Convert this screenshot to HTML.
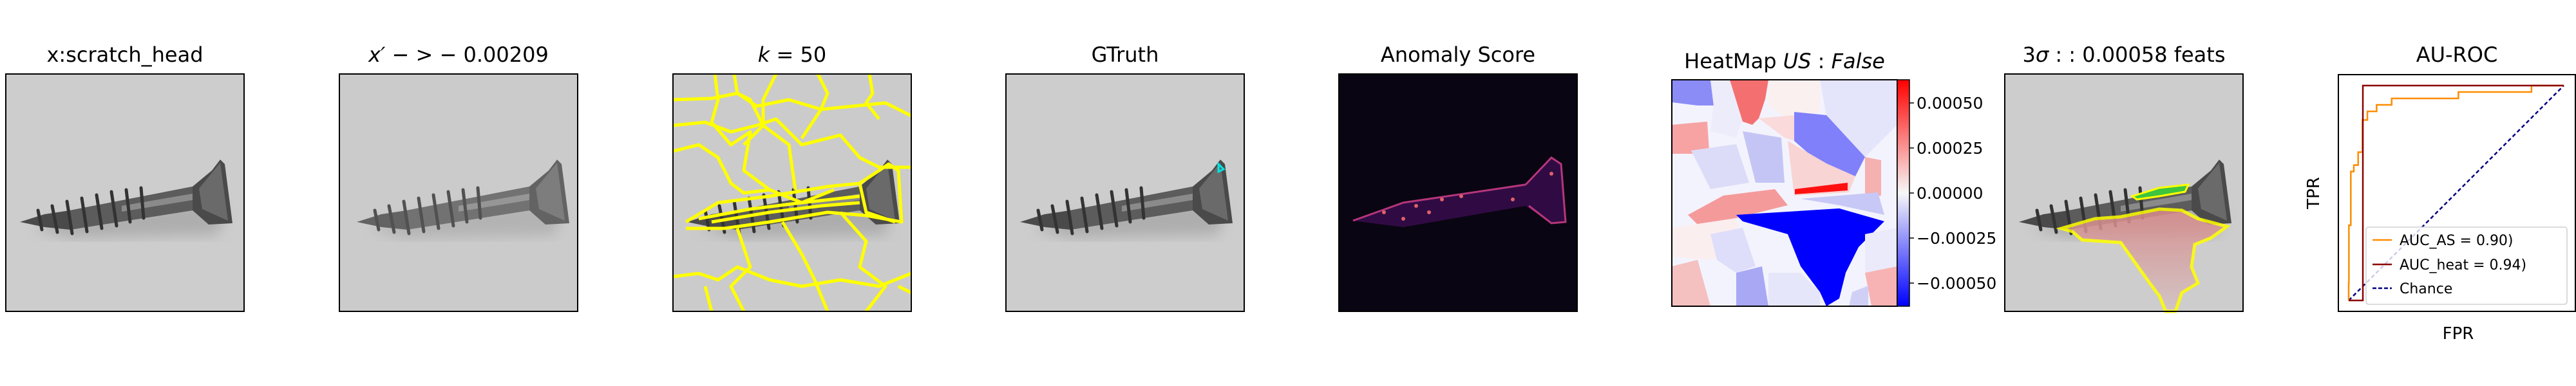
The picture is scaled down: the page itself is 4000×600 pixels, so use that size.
<!DOCTYPE html>
<html><head><meta charset="utf-8"><style>
html,body{margin:0;padding:0;background:#fff;}
body{width:4000px;height:600px;position:relative;overflow:hidden;font-family:"DejaVu Sans","Liberation Sans",sans-serif;}
.t{position:absolute;font-size:32px;color:#000;text-align:center;white-space:nowrap;transform:translateX(-50%);}
</style></head><body>
<svg id="fig" width="4000" height="600" viewBox="0 0 4000 600" xmlns="http://www.w3.org/2000/svg" style="position:absolute;left:0;top:0">
<defs>
<filter id="blur"><feGaussianBlur stdDeviation="10"/></filter>
<symbol id="screw" viewBox="0 0 370 369">
<path d="M40,240 L100,225 L290,195 L340,210 L330,250 L100,255 Z" fill="#9a9a9a" opacity="0.6" filter="url(#blur)"/>
<path d="M22,230 L60,218 L100,212 L290,175 L320,150 L333,133 L340,140 L352,232 L315,234 L290,212 L100,242 L60,238 Z" fill="#4a4a4a"/>
<path d="M100,212 L290,175 L290,212 L100,242 Z" fill="#5c5c5c"/>
<path d="M180,205 L290,186 L290,196 L180,214 Z" fill="#8a8a8a"/>
<path d="M300,178 L333,138 L345,228 L305,210 Z" fill="#6a6a6a"/>
<g stroke="#333" stroke-width="5" stroke-linecap="round">
<line x1="50" y1="212" x2="56" y2="242"/><line x1="72" y1="205" x2="80" y2="246"/><line x1="95" y1="198" x2="103" y2="248"/>
<line x1="118" y1="193" x2="126" y2="245"/><line x1="141" y1="188" x2="149" y2="240"/><line x1="164" y1="183" x2="172" y2="236"/>
<line x1="187" y1="180" x2="193" y2="230"/><line x1="210" y1="177" x2="214" y2="224"/></g>
</symbol>
<linearGradient id="cb" x1="0" y1="1" x2="0" y2="0">
<stop offset="0" stop-color="#0000ff"/><stop offset="0.5" stop-color="#f7f7f7"/><stop offset="1" stop-color="#ff0000"/></linearGradient>
<linearGradient id="pink" x1="0" y1="0" x2="0" y2="1"><stop offset="0" stop-color="#d98888"/><stop offset="1" stop-color="#d4c4c4"/></linearGradient>
</defs>

<g transform="translate(9,115)">
<rect width="370" height="369" fill="#cdcdcd"/><use href="#screw" width="370" height="369"/>
<rect width="370" height="369" fill="none" stroke="#000" stroke-width="2"/></g>

<g transform="translate(527,115)">
<rect width="370" height="369" fill="#cbcbcb"/><g opacity="0.8"><use href="#screw" width="370" height="369" transform="translate(5,0)"/></g>
<rect width="370" height="369" fill="none" stroke="#000" stroke-width="2"/></g>

<g transform="translate(1045,115)">
<rect width="370" height="369" fill="#cbcbcb"/><use href="#screw" width="370" height="369"/>
<g fill="none" stroke="#ffff00" stroke-width="5" stroke-linejoin="round">
<path d="M0,40 L60,38 L100,30 L130,50 L180,40 L230,55 L280,50 L330,45 L370,65"/>
<path d="M0,80 L50,75 L90,90 L130,80 L160,70 L200,110 L260,95 L290,130 L320,145 L350,145 L370,145"/>
<path d="M0,120 L40,110 L70,130 L90,170 L110,185 L150,180 L200,200 L250,180"/>
<path d="M65,0 L70,40 L60,75 L90,110 L120,90 L110,150 L150,180"/>
<path d="M95,0 L100,30 L120,40 L140,80 L110,110"/>
<path d="M160,0 L140,40 L140,80 L180,110 L190,180"/>
<path d="M225,0 L240,30 L230,55 L200,100"/>
<path d="M305,0 L310,30 L300,45 L320,70"/>
<path d="M20,230 L70,200 L150,190 L240,175 L290,170 L335,140 L350,150 L355,230 L300,220 L240,215 L150,230 L80,240 L20,240"/>
<path d="M40,225 L120,210 L200,200 L290,190"/><path d="M60,230 L150,215 L230,205 L290,200"/>
<path d="M290,170 L300,215 L345,230"/>
<path d="M0,315 L40,310 L70,320 L100,300 L150,320 L200,330 L260,320 L320,330 L370,310"/>
<path d="M100,240 L110,270 L120,300 L90,330 L110,369"/><path d="M170,230 L200,280 L220,320 L240,369"/>
<path d="M260,215 L300,260 L290,300 L330,330 L300,369"/><path d="M50,330 L60,369"/><path d="M350,330 L370,340"/>
</g>
<rect width="370" height="369" fill="none" stroke="#000" stroke-width="2"/></g>

<g transform="translate(1562,115)">
<rect width="370" height="369" fill="#cdcdcd"/><use href="#screw" width="370" height="369"/>
<path d="M330,140 L338,148 L330,152 Z" fill="none" stroke="#00e5e5" stroke-width="3"/>
<rect width="370" height="369" fill="none" stroke="#000" stroke-width="2"/></g>

<g transform="translate(2079,115)">
<rect width="370" height="369" fill="#0a0512"/>
<path d="M22,228 L100,200 L290,170 L330,130 L345,140 L352,230 L330,232 L290,205 L100,238 Z" fill="#3a0d50" opacity="0.8"/>
<g fill="none" stroke="#b5367a" stroke-width="3"><path d="M290,172 L330,130 L345,140 L352,230 L330,232 L295,205"/><path d="M22,228 L100,200 L290,172"/></g>
<g fill="#e0606a"><circle cx="70" cy="215" r="3"/><circle cx="120" cy="205" r="3"/><circle cx="160" cy="195" r="3"/><circle cx="190" cy="190" r="3"/><circle cx="270" cy="195" r="3"/><circle cx="330" cy="155" r="3"/><circle cx="100" cy="225" r="3"/><circle cx="140" cy="215" r="3"/></g>
<rect width="370" height="369" fill="none" stroke="#000" stroke-width="2"/></g>

<g transform="translate(2596,124)">
<rect width="350" height="352" fill="#f3f3fd"/>
<path d="M0,0 L60,0 L65,40 L40,40 L0,35 Z" fill="#8c8cf7"/>
<path d="M60,0 L90,0 L110,60 L100,90 L60,80 L65,40 Z" fill="#ececfb"/>
<path d="M150,0 L230,0 L230,50 L180,60 L150,40 Z" fill="#fbf0f0"/>
<path d="M230,0 L350,0 L350,70 L300,120 L240,55 Z" fill="#e4e4fb"/>
<path d="M90,0 L150,0 L145,30 L135,60 L125,70 L110,65 Z" fill="#f47070"/>
<path d="M0,70 L55,65 L58,110 L45,115 L0,115 Z" fill="#f7a3a3"/>
<path d="M135,60 L190,55 L190,95 L175,90 Z" fill="#fadada"/>
<path d="M190,50 L240,55 L300,120 L285,150 L230,130 L190,95 Z" fill="#8080fa"/>
<path d="M180,95 L240,130 L285,150 L275,175 L190,180 Z" fill="#f9d4d4"/>
<path d="M300,120 L325,125 L325,180 L300,185 Z" fill="#f5b0b0"/>
<path d="M110,80 L170,90 L175,160 L130,160 Z" fill="#c5c5f5"/>
<path d="M30,110 L100,100 L120,160 L60,170 Z" fill="#dcdcf8"/>
<path d="M25,210 L80,180 L160,170 L180,195 L100,215 L40,225 Z" fill="#f59a9a"/>
<path d="M0,230 L100,215 L110,260 L60,280 L0,275 Z" fill="#fbeeee"/>
<path d="M60,240 L110,230 L130,290 L100,300 L70,280 Z" fill="#dedefa"/>
<path d="M100,210 L260,200 L330,220 L290,260 L270,300 L260,340 L240,352 L230,330 L200,290 L180,240 L110,220 Z" fill="#0000ff"/>
<path d="M191,170 L273,160 L273,172 L191,178 Z" fill="#ff1010"/>
<path d="M200,185 L320,175 L330,210 L260,195 Z" fill="#c8c8f6"/>
<path d="M300,240 L350,230 L350,290 L300,300 Z" fill="#eaeafb"/>
<path d="M0,290 L40,280 L60,352 L0,352 Z" fill="#f5c0c0"/>
<path d="M100,300 L140,290 L150,352 L100,352 Z" fill="#a8a8f5"/>
<path d="M150,300 L200,300 L230,330 L230,352 L150,352 Z" fill="#e6e6fb"/>
<path d="M300,300 L350,290 L350,352 L310,352 Z" fill="#f7b3b3"/>
<path d="M280,330 L305,320 L305,352 L275,352 Z" fill="#d0d0f7"/>
<rect width="350" height="352" fill="none" stroke="#000" stroke-width="2"/></g>

<g>
<rect x="2946" y="124" width="19" height="352" fill="url(#cb)" stroke="#000" stroke-width="1.5"/>
<g id="cbticks"></g></g>

<g transform="translate(3113,115)">
<rect width="370" height="369" fill="#cdcdcd"/><use href="#screw" width="370" height="369"/>
<path d="M88,240 L140,225 L180,222 L240,210 L275,212 L300,225 L345,237 L320,255 L295,265 L290,300 L300,325 L275,340 L265,369 L250,369 L240,345 L225,325 L200,290 L180,262 L120,258 L105,245 Z" fill="url(#pink)" opacity="0.85" stroke="#ffff00" stroke-width="5"/>
<path d="M198,190 L240,177 L285,172 L280,183 L240,190 L205,195 Z" fill="#3ec43e" stroke="#ffff00" stroke-width="3"/>
<rect width="370" height="369" fill="none" stroke="#000" stroke-width="2"/></g>

<g>
<rect x="3631" y="116" width="368" height="368" fill="#fff" stroke="#000" stroke-width="2"/>
<g id="roclines"></g>
<g>
<rect x="3674" y="353" width="312" height="120" rx="4" fill="#fff" fill-opacity="0.8" stroke="#d0d0d0" stroke-width="1.5"/>
<line x1="3684" y1="373" x2="3714" y2="373" stroke="#ff8c00" stroke-width="2.5"/>
<text x="3726" y="381" font-size="22" font-family="DejaVu Sans, Liberation Sans, sans-serif">AUC_AS = 0.90)</text>
<line x1="3684" y1="411" x2="3714" y2="411" stroke="#8b0000" stroke-width="2.5"/>
<text x="3726" y="419" font-size="22" font-family="DejaVu Sans, Liberation Sans, sans-serif">AUC_heat = 0.94)</text>
<line x1="3684" y1="448" x2="3714" y2="448" stroke="#000080" stroke-width="2.5" stroke-dasharray="6,3"/>
<text x="3726" y="456" font-size="22" font-family="DejaVu Sans, Liberation Sans, sans-serif">Chance</text>
</g>
<text transform="translate(3601,300) rotate(-90)" text-anchor="middle" font-size="26" font-family="DejaVu Sans, Liberation Sans, sans-serif">TPR</text>
<text x="3817" y="527" text-anchor="middle" font-size="26" font-family="DejaVu Sans, Liberation Sans, sans-serif">FPR</text>
</g>
</svg>
<div class="t" style="left:194px;top:66px">x:scratch_head</div>
<div class="t" style="left:712px;top:66px"><i>x′</i> − &gt; − 0.00209</div>
<div class="t" style="left:1230px;top:66px"><i>k</i> = 50</div>
<div class="t" style="left:1747px;top:66px">GTruth</div>
<div class="t" style="left:2264px;top:66px">Anomaly Score</div>
<div class="t" style="left:2771px;top:76px">HeatMap <i>US</i> : <i>False</i></div>
<div class="t" style="left:3298px;top:66px">3<i>σ</i> : : 0.00058 feats</div>
<div class="t" style="left:3815px;top:66px">AU-ROC</div>
<script>
const cbTicks=[0.0005,0.00025,0,-0.00025,-0.0005];
const cbLabels=["0.00050","0.00025","0.00000","−0.00025","−0.00050"];
const fprAS=[0,0.001,0.01,0.024,0.044,0.064,0.087,0.13,0.20,0.51,0.85,0.97,1.0];
const tprAS=[0,0.08,0.35,0.60,0.63,0.69,0.84,0.88,0.91,0.94,0.97,1.0,1.0];
const fprHeat=[0,0.066,0.066,1.0];
const tprHeat=[0,0,1.0,1.0];
const fprChance=[0,1];
const tprChance=[0,1];
const NS="http://www.w3.org/2000/svg";
function cbY(v){return 300-v*(70/0.00025);}
const cbg=document.getElementById('cbticks');
cbTicks.forEach((v,i)=>{
 const l=document.createElementNS(NS,'line');
 
 
 l.setAttribute('x1',2965);l.setAttribute('x2',2972);l.setAttribute('y1',cbY(v));l.setAttribute('y2',cbY(v));l.setAttribute('stroke','#000');l.setAttribute('stroke-width',1.5);
 cbg.appendChild(l);
 const t=document.createElementNS(NS,'text');
 
 
 t.setAttribute('x',2976);t.setAttribute('y',cbY(v)+9);t.setAttribute('font-size','25');t.setAttribute('font-family','DejaVu Sans, Liberation Sans, sans-serif');
 t.textContent=cbLabels[i];cbg.appendChild(t);
});
function sx(v){return 3647+v*334;}
function sy(v){return 467-v*334;}
const rl=document.getElementById('roclines');
function line(xs,ys,color,name,dash){
 const p=document.createElementNS(NS,'polyline');
 
 
 p.setAttribute('points',xs.map((x,i)=>sx(x)+','+sy(ys[i])).join(' '));
 p.setAttribute('fill','none');p.setAttribute('stroke',color);p.setAttribute('stroke-width',2.5);
 if(dash)p.setAttribute('stroke-dasharray',dash);
 rl.appendChild(p);
}
function stepPts(xs,ys){const ox=[xs[0]],oy=[ys[0]];for(let i=1;i<xs.length;i++){ox.push(xs[i-1]);oy.push(ys[i]);ox.push(xs[i]);oy.push(ys[i]);}return [ox,oy];}
line(fprChance,tprChance,'#000080','roc-chance-line','6,4');
const sa=stepPts(fprAS,tprAS);
line(sa[0],sa[1],'#ff8c00','roc-as-line');
line(fprHeat,tprHeat,'#8b0000','roc-heat-line');
</script>
</body></html>
